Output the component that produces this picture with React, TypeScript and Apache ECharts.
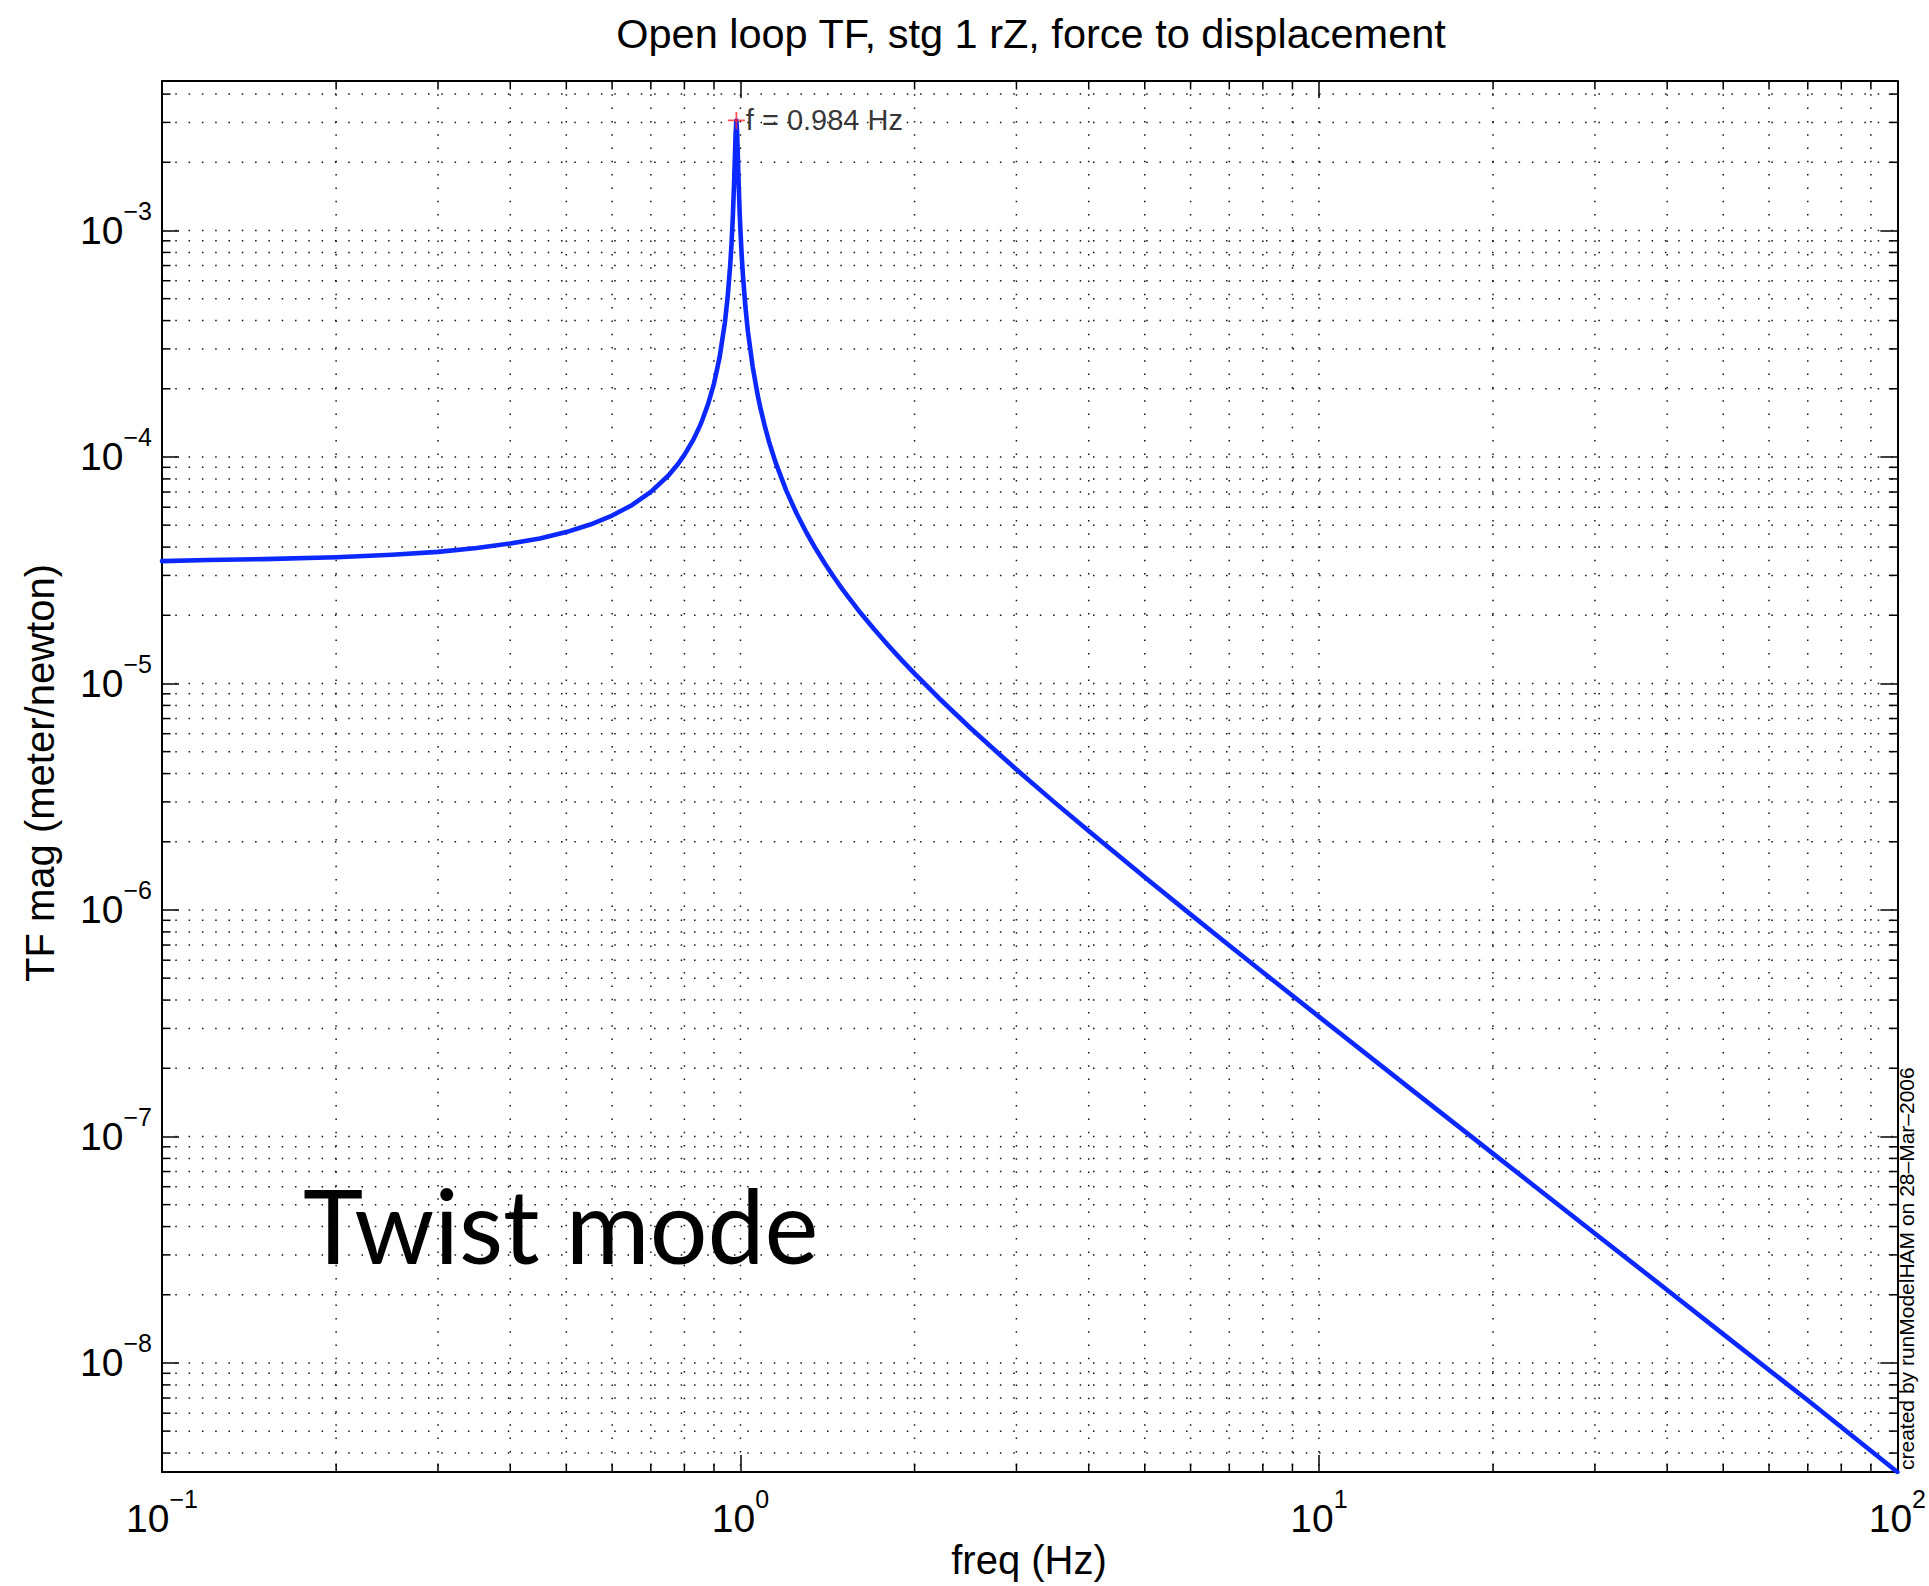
import React, { useEffect, useRef } from 'react';
import * as echarts from 'echarts';

// ---- data ----
const FREQ_HZ = [
  0.1, 0.12, 0.15, 0.2, 0.25, 0.3, 0.35, 0.4, 0.45, 0.5, 0.55, 0.6, 0.65, 0.7, 0.75, 0.78,
  0.8, 0.83, 0.85, 0.86, 0.88, 0.9, 0.92, 0.94, 0.95, 0.96, 0.965, 0.97, 0.975, 0.978, 0.981,
  0.984, 0.987, 0.99, 0.993, 0.997, 1.0, 1.005, 1.01, 1.02, 1.03, 1.05, 1.07, 1.08, 1.1, 1.12,
  1.15, 1.2, 1.25, 1.3, 1.35, 1.4, 1.45, 1.5, 1.6, 1.7, 1.8, 1.9, 2.0, 2.2, 2.5, 2.8, 3, 3.5,
  4, 5, 6, 7, 8, 10, 15, 20, 30, 40, 50, 70, 100,
];
const TF_MAG = [
  3.47e-5, 3.51e-5, 3.54e-5, 3.61e-5, 3.7e-5, 3.81e-5, 3.96e-5, 4.15e-5, 4.37e-5, 4.66e-5,
  5.03e-5, 5.51e-5, 6.14e-5, 7.01e-5, 8.26e-5, 9.31e-5,
  1.021e-4, 1.199e-4, 1.363e-4, 1.466e-4, 1.728e-4, 2.11e-4, 2.74e-4, 3.93e-4, 5.03e-4,
  7.0e-4, 8.7e-4, 1.14e-3, 1.62e-3, 2.08e-3, 2.69e-3,
  3.06e-3, 2.68e-3, 2.07e-3, 1.6e-3, 1.19e-3, 9.95e-4, 7.75e-4, 6.32e-4, 4.59e-4, 3.59e-4,
  2.5e-4, 1.9e-4, 1.69e-4, 1.39e-4, 1.171e-4,
  9.46e-5, 7.1e-5, 5.64e-5, 4.64e-5, 3.92e-5, 3.38e-5, 2.95e-5, 2.61e-5, 2.1e-5, 1.743e-5,
  1.475e-5, 1.268e-5, 1.105e-5, 8.65e-6, 6.34e-6, 4.88e-6, 4.17e-6, 2.97e-6,
  2.23e-6, 1.394e-6, 9.56e-7, 6.97e-7, 5.31e-7, 3.38e-7, 1.495e-7, 8.4e-8, 3.73e-8, 2.1e-8,
  1.34e-8, 6.84e-9, 3.3e-9,
];
const PEAK_FREQ = 0.984;
const PEAK_MAG = 3.06e-3;
const PEAK_LABEL = 'f = 0.984 Hz';

// ---- axes ----
const X_MIN = 0.1;
const X_MAX = 100;
const Y_MIN = 3.3e-9;
const Y_MAX = 4.57e-3;
const X_GRID_MAJOR = [1, 10];
const X_GRID_MINOR = [
  0.2, 0.3, 0.4, 0.5, 0.6, 0.7, 0.8, 0.9,
  2, 3, 4, 5, 6, 7, 8, 9,
  20, 30, 40, 50, 60, 70, 80, 90,
];
const Y_GRID_MAJOR = [1e-8, 1e-7, 1e-6, 1e-5, 1e-4, 1e-3];
const Y_GRID_MINOR = [
  4e-9, 5e-9, 6e-9, 7e-9, 8e-9, 9e-9,
  2e-8, 3e-8, 4e-8, 5e-8, 6e-8, 7e-8, 8e-8, 9e-8,
  2e-7, 3e-7, 4e-7, 5e-7, 6e-7, 7e-7, 8e-7, 9e-7,
  2e-6, 3e-6, 4e-6, 5e-6, 6e-6, 7e-6, 8e-6, 9e-6,
  2e-5, 3e-5, 4e-5, 5e-5, 6e-5, 7e-5, 8e-5, 9e-5,
  2e-4, 3e-4, 4e-4, 5e-4, 6e-4, 7e-4, 8e-4, 9e-4,
  2e-3, 3e-3, 4e-3,
];

// ---- texts ----
const TITLE = 'Open loop TF, stg 1 rZ, force to displacement';
const X_NAME = 'freq (Hz)';
const Y_NAME = 'TF mag (meter/newton)';
const STAMP = 'created by runModelHAM on 28–Mar–2006';
const NOTE = 'Twist mode';

const FONT = '"Liberation Sans", Arial, Helvetica, sans-serif';
const GRID = { left: 162, top: 81, width: 1736, height: 1391 };
const MINOR_LEN = 8.5;
const GRID_STYLE = { stroke: '#111', lineWidth: 1.5, lineDash: [1.5, 11.8] };
const TICK_STYLE = { stroke: '#000', lineWidth: 1.5 };

function powLabel(v: number): string {
  const e = Math.log10(v);
  const r = Math.round(e);
  if (Math.abs(e - r) > 1e-6) return '';
  return `{b|10}{s|${r < 0 ? '\u2212' : ''}${Math.abs(r)}}`;
}

const tickLabel = {
  color: '#000',
  fontFamily: FONT,
  formatter: powLabel,
  rich: {
    b: { fontSize: 39, fontFamily: FONT, lineHeight: 64, color: '#000' },
    s: { fontSize: 25, fontFamily: FONT, lineHeight: 22, verticalAlign: 'top', color: '#000' },
  },
};

function axisBase(extra: any) {
  return {
    type: 'log',
    logBase: 10,
    gridIndex: 0,
    axisLine: { show: true, onZero: false, lineStyle: { color: '#000', width: 2 } },
    axisTick: { show: true, inside: true, length: 17, lineStyle: { color: '#000', width: 1.5 } },
    splitLine: { show: false },
    minorTick: { show: false },
    minorSplitLine: { show: false },
    ...extra,
  };
}

function textEl(text: string, x: number, y: number, font: string, align: string, valign: string, rotation = 0) {
  return {
    type: 'text',
    x,
    y,
    rotation,
    silent: true,
    style: {
      text,
      font,
      fill: '#000',
      align,
      textAlign: align,
      verticalAlign: valign,
      textVerticalAlign: valign,
    },
  };
}

export default function App() {
  const ref = useRef<HTMLDivElement>(null);

  useEffect(() => {
    const el = ref.current;
    if (!el) return;
    const chart = echarts.init(el, null, { renderer: 'svg' });

    const vData = [
      ...X_GRID_MINOR.map((v) => [v, Y_MIN, 1]),
      ...X_GRID_MAJOR.map((v) => [v, Y_MIN, 0]),
    ];
    const hData = [
      ...Y_GRID_MINOR.map((v) => [X_MIN, v, 1]),
      ...Y_GRID_MAJOR.map((v) => [X_MIN, v, 0]),
    ];

    const option: any = {
      animation: false,
      backgroundColor: '#fff',
      grid: { ...GRID, containLabel: false },
      xAxis: [
        axisBase({ min: X_MIN, max: X_MAX, position: 'bottom', axisLabel: { ...tickLabel, margin: 14 } }),
        axisBase({ min: X_MIN, max: X_MAX, position: 'top', axisLabel: { show: false } }),
      ],
      yAxis: [
        axisBase({
          min: Y_MIN,
          max: Y_MAX,
          position: 'left',
          axisLabel: { ...tickLabel, margin: 10, showMinLabel: false, showMaxLabel: false },
        }),
        axisBase({ min: Y_MIN, max: Y_MAX, position: 'right', axisLabel: { show: false } }),
      ],
      series: [
        {
          type: 'custom',
          xAxisIndex: 0,
          yAxisIndex: 0,
          z: 1,
          silent: true,
          clip: false,
          encode: { x: 0, y: 1 },
          data: vData,
          renderItem: (params: any, api: any) => {
            const x = api.value(0);
            const minor = api.value(2) === 1;
            const p0 = api.coord([x, Y_MAX]);
            const p1 = api.coord([x, Y_MIN]);
            const children: any[] = [
              { type: 'line', shape: { x1: p0[0], y1: p0[1], x2: p1[0], y2: p1[1] }, style: GRID_STYLE },
            ];
            if (minor) {
              children.push({ type: 'line', shape: { x1: p0[0], y1: p0[1], x2: p0[0], y2: p0[1] + MINOR_LEN }, style: TICK_STYLE });
              children.push({ type: 'line', shape: { x1: p1[0], y1: p1[1], x2: p1[0], y2: p1[1] - MINOR_LEN }, style: TICK_STYLE });
            }
            return { type: 'group', children };
          },
        },
        {
          type: 'custom',
          xAxisIndex: 0,
          yAxisIndex: 0,
          z: 1,
          silent: true,
          clip: false,
          encode: { x: 0, y: 1 },
          data: hData,
          renderItem: (params: any, api: any) => {
            const y = api.value(1);
            const minor = api.value(2) === 1;
            const p0 = api.coord([X_MIN, y]);
            const p1 = api.coord([X_MAX, y]);
            const children: any[] = [
              { type: 'line', shape: { x1: p0[0], y1: p0[1], x2: p1[0], y2: p1[1] }, style: GRID_STYLE },
            ];
            if (minor) {
              children.push({ type: 'line', shape: { x1: p0[0], y1: p0[1], x2: p0[0] + MINOR_LEN, y2: p0[1] }, style: TICK_STYLE });
              children.push({ type: 'line', shape: { x1: p1[0], y1: p1[1], x2: p1[0] - MINOR_LEN, y2: p1[1] }, style: TICK_STYLE });
            }
            return { type: 'group', children };
          },
        },
        {
          type: 'line',
          xAxisIndex: 0,
          yAxisIndex: 0,
          z: 3,
          showSymbol: false,
          symbol: 'none',
          silent: true,
          data: FREQ_HZ.map((f, i) => [f, TF_MAG[i]]),
          lineStyle: { color: '#0a28ff', width: 4.6, join: 'round', cap: 'round' },
        },
        {
          type: 'scatter',
          xAxisIndex: 0,
          yAxisIndex: 0,
          z: 4,
          silent: true,
          symbol: 'path://M10,0 L10,20 M0,10 L20,10',
          symbolSize: 17,
          itemStyle: { color: 'rgba(0,0,0,0)', borderColor: '#ff2a2a', borderWidth: 1.8 },
          data: [[PEAK_FREQ, PEAK_MAG]],
          label: {
            show: true,
            position: 'right',
            distance: 0,
            formatter: PEAK_LABEL,
            fontSize: 29,
            fontFamily: FONT,
            color: '#000',
          },
        },
      ],
      graphic: [
        textEl(TITLE, 1031, 33, `41.5px ${FONT}`, 'center', 'middle'),
        textEl(X_NAME, 1029, 1560, `40px ${FONT}`, 'center', 'middle'),
        textEl(Y_NAME, 40, 773, `40px ${FONT}`, 'center', 'middle', Math.PI / 2),
        textEl(STAMP, 1906, 1470, `21px ${FONT}`, 'left', 'middle', Math.PI / 2),
        textEl(NOTE, 303, 1224, `102px Lato, "Noto Sans", sans-serif`, 'left', 'middle'),
      ],
    };

    chart.setOption(option);
    return () => chart.dispose();
  }, []);

  return (
    <div
      ref={ref}
      style={{ position: 'fixed', left: 0, top: 0, width: 1929, height: 1586, background: '#fff' }}
    />
  );
}
